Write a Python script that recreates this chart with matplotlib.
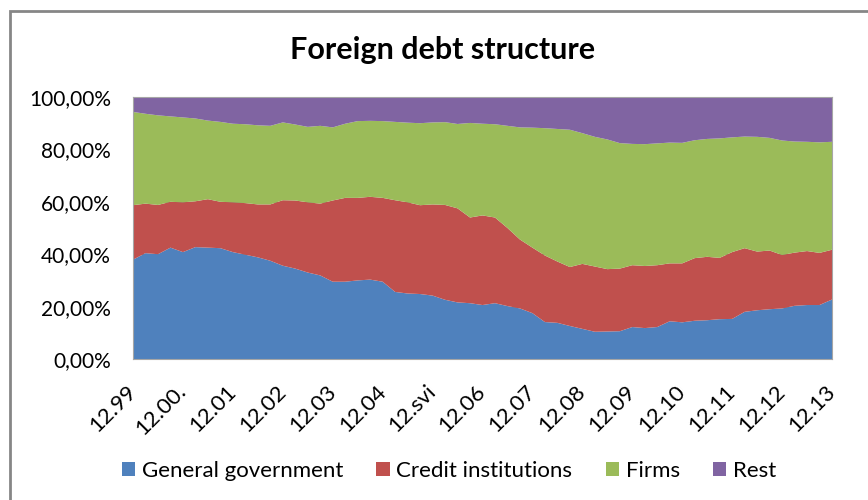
import numpy as np
import matplotlib
matplotlib.use('Agg')
import matplotlib.pyplot as plt
from matplotlib.patches import Patch, Rectangle
from matplotlib.ticker import FuncFormatter

# quarterly shares of foreign debt, % (month offset from 12.1999)
months = np.arange(0, 169, 3)
general_gov = [37.9, 40.4, 40.0, 42.5, 40.8, 42.7, 42.5, 42.3, 40.8, 39.8,
               38.8, 37.5, 35.6, 34.5, 33.0, 31.9, 29.5, 29.5, 30.0, 30.3,
               29.5, 25.6, 25.0, 24.8, 24.2, 22.6, 21.6, 21.3, 20.6, 21.3,
               20.2, 19.3, 17.5, 14.1, 13.8, 12.6, 11.5, 10.4, 10.5, 10.6,
               12.2, 11.8, 12.2, 14.4, 14.0, 14.6, 14.8, 15.2, 15.3, 18.0,
               18.6, 19.0, 19.3, 20.3, 20.6, 20.6, 22.7]
credit_inst = [20.8, 18.9, 18.8, 17.5, 19.0, 17.5, 18.5, 17.7, 19.0, 19.7,
               20.2, 21.5, 25.0, 26.0, 26.8, 27.4, 31.0, 32.0, 31.5, 31.6,
               32.0, 35.0, 34.8, 33.9, 34.8, 36.2, 35.9, 32.7, 34.2, 32.7,
               29.8, 26.3, 25.0, 25.4, 23.4, 22.5, 24.8, 24.9, 23.8, 23.9,
               23.6, 23.7, 23.6, 22.1, 22.5, 23.9, 24.2, 23.4, 25.5, 24.3,
               22.4, 22.4, 20.4, 20.3, 20.6, 19.9, 19.0]
firms = [35.6, 34.3, 34.2, 32.6, 32.4, 31.6, 30.0, 30.5, 30.0, 30.1,
         30.2, 30.0, 29.7, 29.0, 28.8, 29.7, 27.9, 28.3, 29.3, 29.0,
         29.3, 29.9, 30.4, 31.3, 31.3, 31.6, 32.2, 36.1, 35.0, 35.6,
         39.0, 42.8, 45.8, 48.6, 50.6, 52.4, 49.9, 49.5, 49.5, 47.9,
         46.3, 46.5, 46.5, 46.1, 46.0, 45.0, 45.0, 45.6, 43.8, 42.6,
         43.8, 43.0, 43.7, 42.4, 41.7, 42.2, 41.2]
rest = [5.7, 6.4, 7.0, 7.4, 7.8, 8.2, 9.0, 9.5, 10.2, 10.4,
        10.8, 11.0, 9.7, 10.5, 11.4, 11.0, 11.6, 10.2, 9.2, 9.1,
        9.2, 9.5, 9.8, 10.0, 9.7, 9.6, 10.3, 9.9, 10.2, 10.4,
        11.0, 11.6, 11.7, 11.9, 12.2, 12.5, 13.8, 15.2, 16.2, 17.6,
        17.9, 18.0, 17.7, 17.4, 17.5, 16.5, 16.0, 15.8, 15.4, 15.1,
        15.2, 15.6, 16.6, 17.0, 17.1, 17.3, 17.1]

labels = ['General government', 'Credit institutions', 'Firms', 'Rest']
colors = ['#4F81BD', '#C0504D', '#9BBB59', '#8064A2']
year_ticks = np.arange(0, 169, 12)
year_labels = ['12.99', '12.00.', '12.01', '12.02', '12.03', '12.04', '12.svi',
               '12.06', '12.07', '12.08', '12.09', '12.10', '12.11', '12.12',
               '12.13']

plt.rcParams['font.family'] = ['Lato', 'DejaVu Sans']

fig = plt.figure(figsize=(8.68, 5.0), dpi=100)
ax = fig.add_axes([133 / 868, 1 - 359 / 500, 699 / 868, 262 / 500])

ax.stackplot(months, general_gov, credit_inst, firms, rest,
             colors=colors, linewidth=0, zorder=2)
ax.set_xlim(0, 168)
ax.set_ylim(0, 100)
ax.set_yticks(np.arange(0, 101, 20))
ax.yaxis.set_major_formatter(FuncFormatter(lambda v, p: ('%.2f%%' % v).replace('.', ',')))
ax.grid(axis='y', color='#868686', linewidth=0.8, zorder=0)
ax.set_xticks(year_ticks)
ax.set_xticklabels(year_labels, rotation=45, ha='right', va='center',
                   rotation_mode='anchor')
ax.tick_params(axis='x', length=0, pad=21, labelsize=16)
ax.tick_params(axis='y', length=0, pad=16, labelsize=15)
for s in ax.spines.values():
    s.set_color('#A6A6A6')
    s.set_linewidth(0.8)

fig.text(443 / 868, 1 - 50 / 500, 'Foreign debt structure', ha='center',
         va='center', fontsize=22, fontweight='bold')

handles = [Patch(facecolor=c, edgecolor='none') for c in colors]
fig.legend(handles, labels, loc='center', bbox_to_anchor=(449 / 868, 1 - 471 / 500),
           ncol=4, frameon=False, fontsize=16, handlelength=0.6,
           handleheight=0.6, handletextpad=0.3, columnspacing=1.5)

# outer chart frame
fig.patches.append(Rectangle((10 / 868, -0.1), 1.1, 1.1 - 11 / 500,
                             transform=fig.transFigure, fill=False,
                             edgecolor='#868686', linewidth=2))

fig.savefig('out.png', dpi=100)
